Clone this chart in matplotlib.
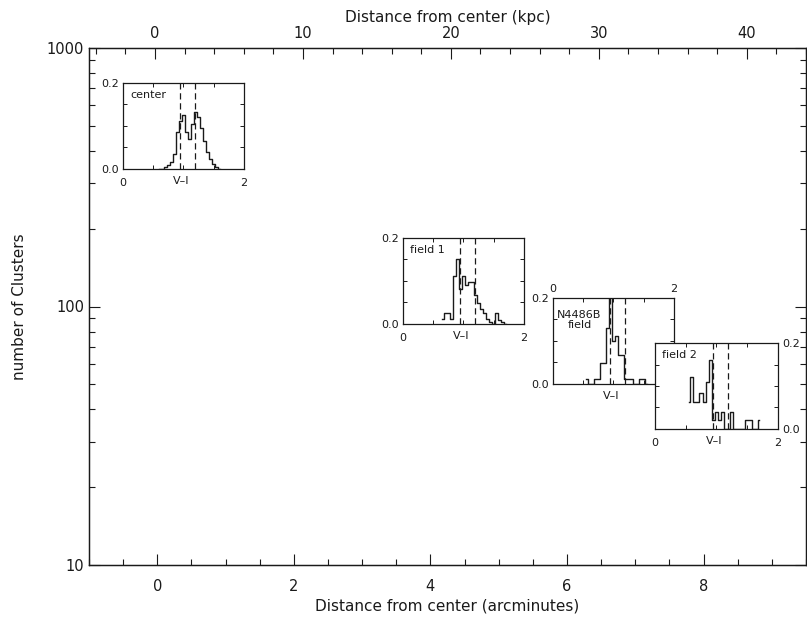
import numpy as np
import matplotlib
matplotlib.use("Agg")
import matplotlib.pyplot as plt
from matplotlib.ticker import FixedLocator, MultipleLocator, NullFormatter, FixedFormatter

plt.rcParams['font.family'] = ['DejaVu Sans']

# ---- data ----
# histogram bin centers (V-I) and fractions for each inset
center_v = [0.60, 0.65, 0.70, 0.75, 0.80, 0.85, 0.90, 0.95, 1.00, 1.05, 1.10, 1.15,
            1.20, 1.25, 1.30, 1.35, 1.40, 1.45, 1.50, 1.55, 1.60]
center_f = [0.0, 0.0, 0.003, 0.008, 0.015, 0.035, 0.085, 0.11, 0.125, 0.085, 0.07, 0.105,
            0.132, 0.12, 0.095, 0.065, 0.04, 0.022, 0.01, 0.004, 0.0]

field1_v = [0.65, 0.70, 0.75, 0.80, 0.85, 0.90, 0.95, 1.00, 1.05, 1.10, 1.15, 1.20,
            1.25, 1.30, 1.35, 1.40, 1.45, 1.50, 1.55, 1.60, 1.65, 1.70]
field1_f = [0.012, 0.024, 0.024, 0.012, 0.11, 0.15, 0.08, 0.11, 0.09, 0.096, 0.096, 0.067,
            0.047, 0.035, 0.024, 0.012, 0.005, 0.0, 0.024, 0.008, 0.005, 0.0]

n4486b_v = [0.55, 0.60, 0.65, 0.70, 0.75, 0.80, 0.85, 0.90, 0.95, 1.00, 1.05, 1.10,
            1.15, 1.20, 1.25, 1.30, 1.35, 1.40, 1.45, 1.50, 1.55]
n4486b_f = [0.01, 0.0, 0.0, 0.01, 0.01, 0.047, 0.047, 0.13, 0.23, 0.10, 0.11, 0.067,
            0.067, 0.01, 0.01, 0.01, 0.0, 0.0, 0.01, 0.01, 0.0]

field2_v = [0.55, 0.60, 0.65, 0.70, 0.75, 0.80, 0.85, 0.90, 0.95, 1.00, 1.05, 1.10,
            1.15, 1.20, 1.25, 1.30, 1.35, 1.40, 1.45, 1.50, 1.55, 1.60, 1.65, 1.70]
field2_f = [0.063, 0.122, 0.063, 0.063, 0.083, 0.063, 0.11, 0.16, 0.02, 0.04, 0.02, 0.04,
            0.0, 0.0, 0.04, 0.0, 0.0, 0.0, 0.0, 0.02, 0.02, 0.0, 0.0, 0.02]

peaks_vi = [0.94, 1.19]   # dashed lines (blue / red peaks)

x_major = [0, 2, 4, 6, 8]
kpc_major = [0, 10, 20, 30, 40]
y_major = [10, 100, 1000]
y_labels = ["10", "100", "1000"]

INK = '#1a1a1a'
W, H = 807, 617
fig = plt.figure(figsize=(W / 100, H / 100), dpi=100)

def frac(x0, x1, ytop, ybot):
    return [x0 / W, 1 - ybot / H, (x1 - x0) / W, (ybot - ytop) / H]

ax = fig.add_axes(frac(89, 806, 48, 565))
ax.set_yscale('log')
ax.set_xlim(-1.0, 9.5)
ax.set_ylim(10, 1000)
ax.yaxis.set_major_locator(FixedLocator(y_major))
ax.yaxis.set_major_formatter(FixedFormatter(y_labels))
ax.yaxis.set_minor_formatter(NullFormatter())
ax.xaxis.set_major_locator(FixedLocator(x_major))
ax.xaxis.set_minor_locator(MultipleLocator(0.5))
ax.tick_params(which='both', direction='in', left=True, right=True, bottom=True, top=False,
               labelsize=10.5, colors=INK, width=0.8)
ax.tick_params(which='major', length=8)
ax.tick_params(which='minor', length=4)
ax.tick_params(axis='x', pad=10)
ax.set_xlabel('Distance from center (arcminutes)', fontsize=11, color=INK, labelpad=3)
ax.set_ylabel('number of Clusters', fontsize=11, color=INK, labelpad=14)
for s in ax.spines.values():
    s.set_color(INK)
    s.set_linewidth(0.9)

ax2 = ax.twiny()
ax2.set_xlim(-4.46, 44.0)
ax2.xaxis.set_major_locator(FixedLocator(kpc_major))
ax2.xaxis.set_minor_locator(MultipleLocator(2))
ax2.tick_params(which='both', direction='in', labelsize=10.5, colors=INK, width=0.8)
ax2.tick_params(which='major', length=8, pad=5)
ax2.tick_params(which='minor', length=4)
ax2.set_xlabel('Distance from center (kpc)', fontsize=11, color=INK, labelpad=3)
for s in ax2.spines.values():
    s.set_color(INK)
    s.set_linewidth(0.9)


def inset(rect, v, f, label, xlab_top=False, ylab_right=False, label_xy=(0.06, 0.86)):
    a = fig.add_axes(rect)
    a.set_facecolor('white')
    a.step(v, f, where='mid', color=INK, lw=1.0, clip_on=True)
    for p in peaks_vi:
        a.axvline(p, color=INK, lw=0.9, ls=(0, (5, 3)))
    a.set_xlim(0, 2)
    a.set_ylim(0, 0.2)
    a.xaxis.set_major_locator(FixedLocator([0, 2]))
    a.xaxis.set_minor_locator(FixedLocator([0.5, 1.0, 1.5]))
    a.yaxis.set_major_locator(FixedLocator([0.0, 0.2]))
    a.yaxis.set_minor_locator(FixedLocator([0.05, 0.10, 0.15]))
    a.xaxis.set_major_formatter(FixedFormatter(['0', '2']))
    a.yaxis.set_major_formatter(FixedFormatter(['0.0', '0.2']))
    a.tick_params(which='both', direction='in', top=True, bottom=True, left=True, right=True,
                  labelsize=8, colors=INK, width=0.7)
    a.tick_params(which='major', length=0, pad=3)
    a.tick_params(which='minor', length=3)
    a.tick_params(axis='x', pad=7)
    if xlab_top:
        a.tick_params(axis='x', labeltop=True, labelbottom=False, pad=3)
    if ylab_right:
        a.tick_params(axis='y', labelright=True, labelleft=False)
    a.text(0.97, -0.08, 'V\u2013I', transform=a.get_xaxis_transform(), ha='center',
           va='top', fontsize=8, color=INK)
    a.text(label_xy[0], label_xy[1], label, transform=a.transAxes, ha='left', va='center',
           fontsize=8, color=INK, linespacing=1.0)
    for s in a.spines.values():
        s.set_color(INK)
        s.set_linewidth(0.9)
    return a

inset(frac(122.7, 244, 82.7, 168.7), center_v, center_f, 'center')
inset(frac(402.7, 524, 237.7, 323.7), field1_v, field1_f, 'field 1')
a3 = inset(frac(552.7, 674, 297.7, 383.7), n4486b_v, n4486b_f, '', xlab_top=True)
a3.text(0.22, 0.74, 'N4486B\nfield', transform=a3.transAxes, ha='center', va='center',
        fontsize=8, color=INK, linespacing=1.0)
inset(frac(655, 777.7, 343.3, 428.7), field2_v, field2_f, 'field 2', ylab_right=True)

fig.savefig('out.png', dpi=100)
